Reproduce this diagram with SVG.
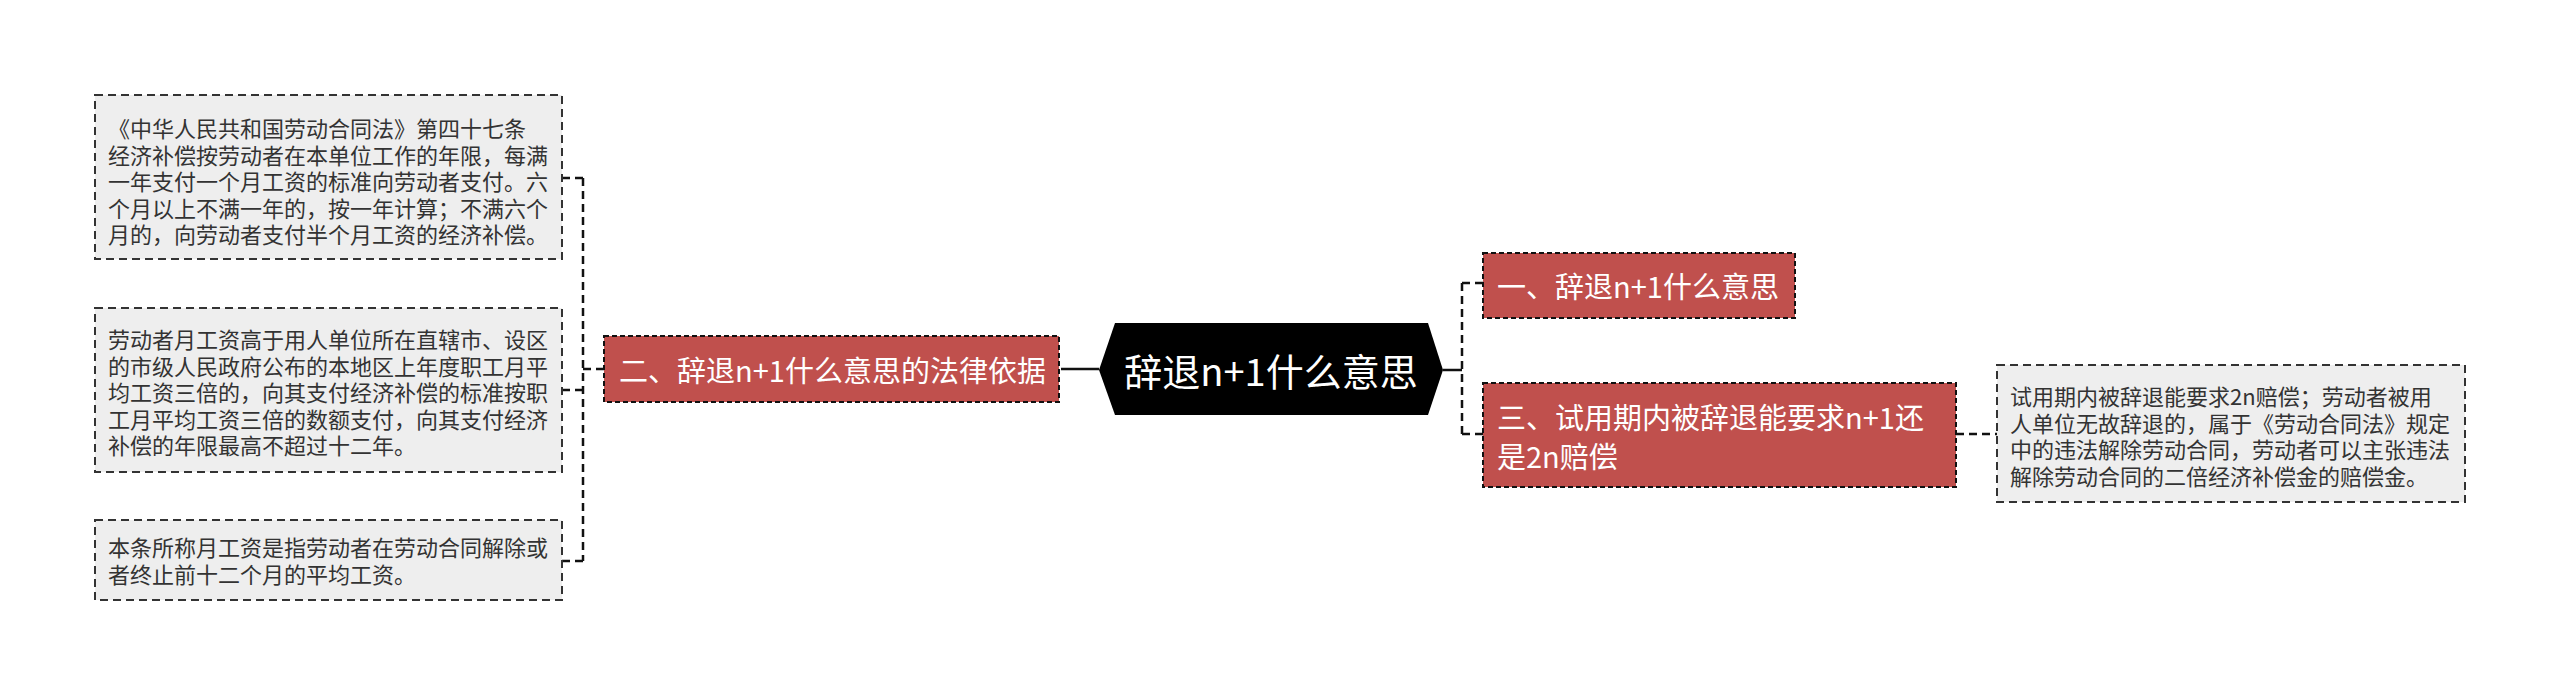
<svg xmlns="http://www.w3.org/2000/svg" width="2560" height="696" viewBox="0 0 2560 696">
<style>
text{font-family:"Noto Sans CJK SC","Noto Sans",sans-serif;dominant-baseline:central}
.detail rect{fill:#eeeeee;stroke:#333;stroke-width:2;stroke-dasharray:8 5}
.detail text{fill:#333;font-size:22px}
.topic rect{fill:#c0504d;stroke:#111;stroke-width:2;stroke-dasharray:5 3}
.topic text{fill:#fff;font-size:29px}
.conn path{fill:none;stroke:#111;stroke-width:2.5}
.conn .d{stroke-dasharray:8 5}
</style>
<rect width="2560" height="696" fill="#fff"/>
<g class="conn">
<path d="M1061 369 H1099"/>
<path d="M1443 370 H1462"/>
<path class="d" d="M604 369 H583 M583 178 V561 M583 178 H562 M583 390 H562 M583 561 H562"/>
<path class="d" d="M1462 283 V434 M1462 283 H1483 M1462 434 H1483"/>
<path class="d" d="M1956 434 H1997"/>
</g>
<g id="root">
<polygon points="1099,370 1115,323 1428,323 1443,370 1428,415 1115,415" fill="#000"/>
<text x="1271" y="369" fill="#fff" font-size="38" text-anchor="middle">辞退n+1什么意思</text>
</g>
<g id="n2" class="topic">
<rect x="604" y="336" width="455" height="66"/>
<text x="619" y="369">二、辞退n+1什么意思的法律依据</text>
</g>
<g id="n1" class="topic">
<rect x="1483" y="253" width="312" height="65"/>
<text x="1497" y="285">一、辞退n+1什么意思</text>
</g>
<g id="n3" class="topic">
<rect x="1483" y="383" width="473" height="104"/>
<text x="1497" y="416">三、试用期内被辞退能要求n+1还<tspan x="1497" dy="39">是2n赔偿</tspan></text>
</g>
<g id="d1" class="detail">
<rect x="95" y="95" width="467" height="164"/>
<text x="108" y="127">《中华人民共和国劳动合同法》第四十七条<tspan x="108" dy="26.5">经济补偿按劳动者在本单位工作的年限，每满</tspan><tspan x="108" dy="26.5">一年支付一个月工资的标准向劳动者支付。六</tspan><tspan x="108" dy="26.5">个月以上不满一年的，按一年计算；不满六个</tspan><tspan x="108" dy="26.5">月的，向劳动者支付半个月工资的经济补偿。</tspan></text>
</g>
<g id="d2" class="detail">
<rect x="95" y="308" width="467" height="164"/>
<text x="108" y="338">劳动者月工资高于用人单位所在直辖市、设区<tspan x="108" dy="26.5">的市级人民政府公布的本地区上年度职工月平</tspan><tspan x="108" dy="26.5">均工资三倍的，向其支付经济补偿的标准按职</tspan><tspan x="108" dy="26.5">工月平均工资三倍的数额支付，向其支付经济</tspan><tspan x="108" dy="26.5">补偿的年限最高不超过十二年。</tspan></text>
</g>
<g id="d3" class="detail">
<rect x="95" y="520" width="467" height="80"/>
<text x="108" y="546">本条所称月工资是指劳动者在劳动合同解除或<tspan x="108" dy="27">者终止前十二个月的平均工资。</tspan></text>
</g>
<g id="d4" class="detail">
<rect x="1997" y="365" width="468" height="137"/>
<text x="2010" y="395">试用期内被辞退能要求2n赔偿；劳动者被用<tspan x="2010" dy="26.5">人单位无故辞退的，属于《劳动合同法》规定</tspan><tspan x="2010" dy="26.5">中的违法解除劳动合同，劳动者可以主张违法</tspan><tspan x="2010" dy="26.5">解除劳动合同的二倍经济补偿金的赔偿金。</tspan></text>
</g>
</svg>
